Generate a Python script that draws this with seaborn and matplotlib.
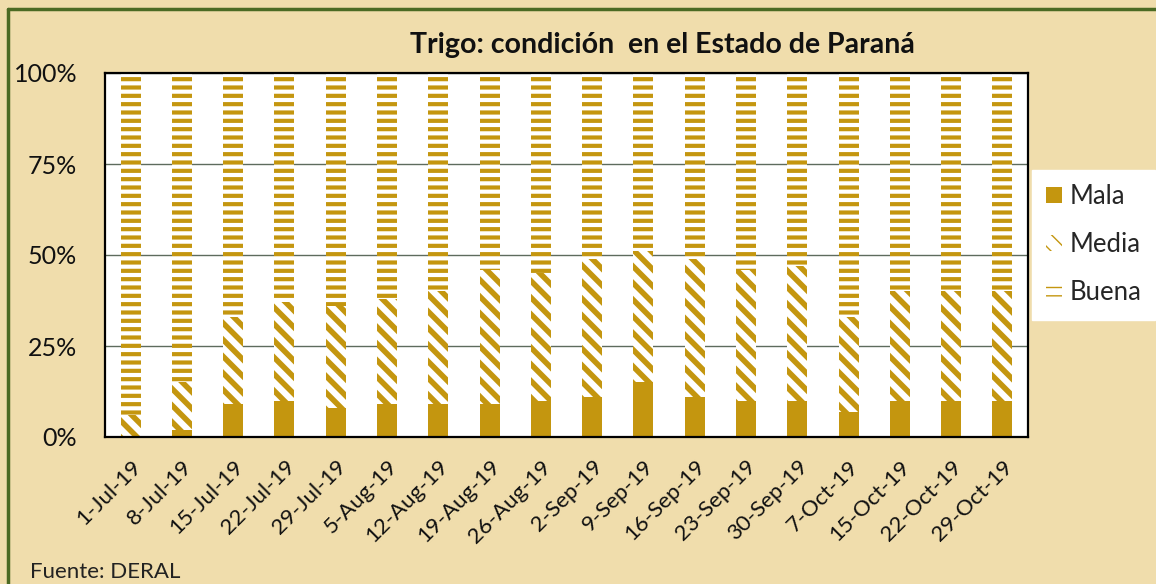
import matplotlib
matplotlib.use("Agg")
import matplotlib.pyplot as plt
import seaborn as sns
import pandas as pd
from matplotlib.lines import Line2D

# ---- data (percent of crop area) ----
fechas = ["1-Jul-19", "8-Jul-19", "15-Jul-19", "22-Jul-19", "29-Jul-19", "5-Aug-19",
          "12-Aug-19", "19-Aug-19", "26-Aug-19", "2-Sep-19", "9-Sep-19", "16-Sep-19",
          "23-Sep-19", "30-Sep-19", "7-Oct-19", "15-Oct-19", "22-Oct-19", "29-Oct-19"]
mala = [0, 2, 9, 10, 8, 9, 9, 9, 10, 11, 15, 11, 10, 10, 7, 10, 10, 10]
media = [6, 13, 24, 27, 28, 29, 31, 37, 35, 38, 36, 38, 36, 37, 26, 30, 30, 30]
buena = [94, 85, 67, 63, 64, 62, 60, 54, 55, 51, 49, 51, 54, 53, 67, 60, 60, 60]
series = ["Mala", "Media", "Buena"]
yticks = [0, 25, 50, 75, 100]
ytick_labels = ["0%", "25%", "50%", "75%", "100%"]

GOLD = "#C4960F"
BG = "#F0DDAC"

sns.set_theme(style="white")
plt.rcParams["font.family"] = ["Lato", "DejaVu Sans"]

W, H = 1156, 584
fig = plt.figure(figsize=(W / 100, H / 100), dpi=100, facecolor=BG)
ax = fig.add_axes([105 / W, 1 - 437 / H, (1028 - 105) / W, (437 - 73) / H])
ax.set_facecolor("white")

df = pd.DataFrame({"fecha": fechas, "Mala": mala, "Media": media, "Buena": buena})
df["top_media"] = df["Mala"] + df["Media"]
df["total"] = df["top_media"] + df["Buena"]

common = dict(data=df, x="fecha", ax=ax, width=0.39, errorbar=None, saturation=1)


def set_hlw(container, lw):
    for p in container.patches:
        if hasattr(p, "set_hatch_linewidth"):
            p.set_hatch_linewidth(lw)


with plt.rc_context({"hatch.linewidth": 3.0}):
    sns.barplot(y="total", color="white", edgecolor=GOLD, hatch="--", linewidth=0, **common)
set_hlw(ax.containers[0], 3.0)
with plt.rc_context({"hatch.linewidth": 4.0}):
    sns.barplot(y="top_media", color="white", edgecolor=GOLD, hatch="\\\\", linewidth=0, **common)
set_hlw(ax.containers[1], 4.0)
sns.barplot(y="Mala", color=GOLD, edgecolor=GOLD, linewidth=0, **common)

ax.set_ylim(0, 100)
ax.set_xlim(-0.5, len(fechas) - 0.5)
ax.set_yticks(yticks)
ax.set_yticklabels(ytick_labels, fontsize=18, color="#111111")
ax.set_xticks(range(len(fechas)))
ax.set_xticklabels(fechas, rotation=45, ha="right", rotation_mode="anchor",
                   fontsize=16, color="#111111")
ax.tick_params(axis="x", length=0, pad=14)
ax.tick_params(axis="y", length=0, pad=20)
ax.set_xlabel("")
ax.set_ylabel("")
ax.set_axisbelow(True)
ax.yaxis.grid(True, color="#5E6B5E", linewidth=1)
for s in ax.spines.values():
    s.set_color("black")
    s.set_linewidth(1.6)

# legend (Mala, Media, Buena)
cont = ax.containers
handles = [cont[2].patches[0], cont[1].patches[0], cont[0].patches[0]]
leg = fig.legend(handles, series, loc="upper left",
                 bbox_to_anchor=(1032 / W, 1 - 170 / H), frameon=True, fancybox=False,
                 fontsize=18.5, handlelength=0.6, handleheight=0.6, handletextpad=0.3,
                 labelspacing=0.9, borderpad=0.55, borderaxespad=0)
leg.get_frame().set_facecolor("white")
leg.get_frame().set_edgecolor("white")
leg.get_frame().set_alpha(1)

fig.text(662 / W, 1 - 45 / H, "Trigo: condición  en el Estado de Paraná",
         ha="center", va="center", fontsize=20.5, fontweight="bold", color="#111111")
fig.text(30 / W, 1 - 572 / H, "Fuente: DERAL", ha="left", va="center",
         fontsize=16, color="#222222")

# dark green frame (top and left visible)
fig.add_artist(Line2D([8 / W, 1], [1 - 9 / H, 1 - 9 / H], transform=fig.transFigure,
                      color="#4B6A23", linewidth=2.5))
fig.add_artist(Line2D([8 / W, 8 / W], [0, 1 - 9 / H], transform=fig.transFigure,
                      color="#4B6A23", linewidth=2.5))

fig.savefig("out.png", dpi=100, facecolor=BG)
